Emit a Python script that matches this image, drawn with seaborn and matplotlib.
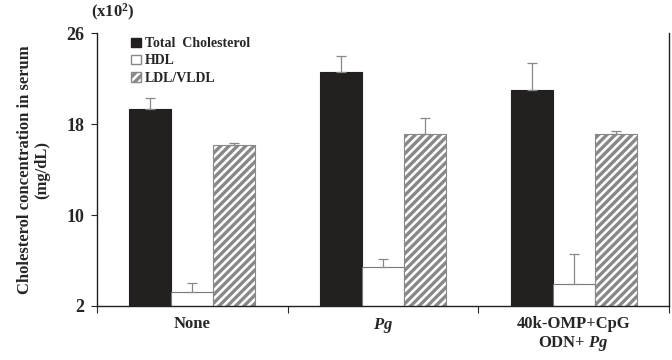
import numpy as np
import pandas as pd
import seaborn as sns
import matplotlib.pyplot as plt
from matplotlib.patches import Patch

# Datos (x10^2 mg/dL)
grupos = ["None", "Pg", "40k-OMP+CpG ODN+ Pg"]
series = ["Total  Cholesterol", "HDL", "LDL/VLDL"]
total = [19.3, 22.55, 20.95]
total_err = [1.0, 1.45, 2.4]
hdl = [3.2, 5.45, 3.9]
hdl_err = [0.8, 0.65, 2.7]
ldl = [16.15, 17.1, 17.1]
ldl_err = [0.2, 1.4, 0.25]

etiquetas = ["None", r"$\it{Pg}$", "40k-OMP+CpG\n" + r"ODN+ $\it{Pg}$"]

df = pd.DataFrame({
    "grupo": grupos * 3,
    "serie": np.repeat(series, 3),
    "valor": total + hdl + ldl,
})
errores = [total_err, hdl_err, ldl_err]

sns.set_style("white")
plt.rcParams["font.family"] = ["Liberation Serif", "DejaVu Serif"]
plt.rcParams["font.weight"] = "bold"
plt.rcParams["mathtext.fontset"] = "custom"
plt.rcParams["mathtext.it"] = "Liberation Serif:italic:bold"
plt.rcParams["mathtext.rm"] = "Liberation Serif:bold"
plt.rcParams["hatch.linewidth"] = 2.4
plt.rcParams["hatch.color"] = "#b0b0b0"

fig = plt.figure(figsize=(6.72, 3.6), dpi=100)
ax = fig.add_axes([0.1443, 0.15, 0.8512, 0.7583])

colores = ["#231f20", "white", "white"]
sns.barplot(data=df, x="grupo", y="valor", hue="serie", order=grupos,
            hue_order=series, palette=colores, width=0.66, ax=ax,
            edgecolor="#777777", linewidth=0.8, legend=False)

# Rayado y barras de error
barras = list(ax.containers)
for k, cont in enumerate(barras):
    xs, ys = [], []
    for bar in cont.patches:
        if k == 0:
            bar.set_edgecolor("#231f20")
        if k == 2:
            bar.set_hatch("////")
            bar.set_edgecolor("#888888")
        xs.append(bar.get_x() + bar.get_width() / 2)
        ys.append(bar.get_height())
    ax.errorbar(xs, ys, yerr=[np.zeros(3), errores[k]], fmt="none",
                ecolor="#888888", elinewidth=0.9, capsize=3.5, capthick=0.9)

ax.set_ylim(2, 26)
ax.set_xlim(-0.5, 2.5)
ax.set_yticks([2, 10, 18, 26])
ax.tick_params(axis="y", labelsize=13, length=4, width=0.8, direction="out", left=True, pad=5)

# Marcas del eje x en los limites de grupo, etiquetas en el centro
ax.set_xticks([-0.5, 0.5, 1.5, 2.5])
ax.set_xticklabels([])
ax.set_xticks([0, 1, 2], minor=True)
ax.set_xticklabels(etiquetas, minor=True, fontsize=12, fontweight="bold")
ax.tick_params(axis="x", which="major", length=5, width=0.8, direction="out", bottom=True)
ax.tick_params(axis="x", which="minor", length=0, pad=7)
ax.set_xlabel("")
ax.set_ylabel("Cholesterol concentration in serum\n(mg/dL)", fontsize=12,
              fontweight="bold", labelpad=12, linespacing=1.1)

for s in ["left", "bottom", "right"]:
    ax.spines[s].set_visible(True)
    ax.spines[s].set_color("#231f20")
    ax.spines[s].set_linewidth(1.0)
ax.spines["top"].set_visible(False)

ax.text(-0.01, 1.035, r"(x10$^{2}$)", transform=ax.transAxes, fontsize=12,
        fontweight="bold", ha="left", va="bottom")

# Leyenda
handles = [
    Patch(facecolor="#231f20", edgecolor="#231f20", label=series[0]),
    Patch(facecolor="white", edgecolor="#888888", label=series[1]),
    Patch(facecolor="white", edgecolor="#888888", hatch="////", label=series[2]),
]
ax.legend(handles=handles, loc="upper left", bbox_to_anchor=(0.045, 1.015),
          frameon=False, handlelength=0.7, handleheight=0.7,
          handletextpad=0.3, labelspacing=0.3, borderaxespad=0.2,
          prop={"weight": "bold", "size": 10})

fig.savefig("out.png", dpi=100)
